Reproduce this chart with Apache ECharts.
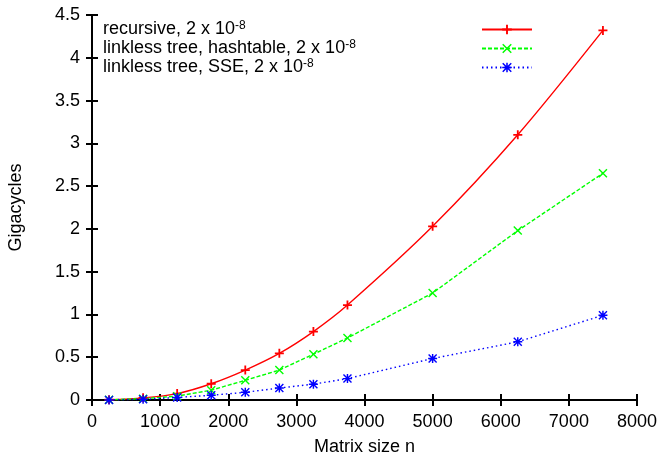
<!DOCTYPE html>
<html>
<head>
<meta charset="utf-8">
<script src="https://cdn.jsdelivr.net/npm/echarts@6/dist/echarts.min.js"></script>
<style>
html,body{margin:0;padding:0;background:#fff;}
#chart{width:660px;height:455px;}
</style>
</head>
<body>
<div id="chart"></div>
<script>
// ---- data ----
var sizes = [250, 750, 1250, 1750, 2250, 2750, 3250, 3750, 5000, 6250, 7500];
var recursive = [0.003, 0.025, 0.075, 0.19, 0.35, 0.545, 0.80, 1.11, 2.03, 3.10, 4.32];
var hashtable = [0.002, 0.015, 0.045, 0.115, 0.23, 0.35, 0.535, 0.725, 1.25, 1.98, 2.65];
var sse = [0.001, 0.008, 0.03, 0.055, 0.09, 0.14, 0.185, 0.25, 0.485, 0.68, 0.99];
var seriesNames = ['recursive, 2 x 10', 'linkless tree, hashtable, 2 x 10', 'linkless tree, SSE, 2 x 10'];
var seriesSup = '-8';
var xTicks = [0, 1000, 2000, 3000, 4000, 5000, 6000, 7000, 8000];
var yTicks = [0, 0.5, 1, 1.5, 2, 2.5, 3, 3.5, 4, 4.5];
var xTitle = 'Matrix size n';
var yTitle = 'Gigacycles';

function pairs(ys) { return sizes.map(function (x, i) { return [x, ys[i]]; }); }

var PLUS = 'path://M4,0h2v4h4v2h-4v4h-2v-4h-4v-2h4z';
var CROSS = 'path://M0,1.1L1.1,0L10,8.9L8.9,10Z M8.9,0L10,1.1L1.1,10L0,8.9Z';
var STAR = 'path://M4.2,0h1.6v4.2h4.2v1.6h-4.2v4.2h-1.6v-4.2h-4.2v-1.6h4.2z M0,1.1L1.1,0L10,8.9L8.9,10Z M8.9,0L10,1.1L1.1,10L0,8.9Z';

var FONT = 'Liberation Sans, Arial, sans-serif';
var LEG_FS = 18, SUP_FS = 12, LEG_TEXT_W = 374, ROW_H = 19;
var xStep = xTicks[1] - xTicks[0];
var yStep = yTicks[1] - yTicks[0];

var mctx = document.createElement('canvas').getContext('2d');
function textW(s, fs) { mctx.font = fs + 'px ' + FONT; return mctx.measureText(s).width; }

function axisCommon(showLabel) {
  return {
    axisLine: { show: true, lineStyle: { color: '#000', width: 2 } },
    axisTick: { show: true, inside: true, length: 6, lineStyle: { color: '#000', width: 2 } },
    splitLine: { show: false },
    axisLabel: { show: showLabel, color: '#000', fontSize: 18, fontFamily: FONT }
  };
}

var xBottom = Object.assign(axisCommon(true), {
  type: 'value', position: 'bottom', min: xTicks[0], max: xTicks[xTicks.length - 1], interval: xStep,
  name: xTitle, nameLocation: 'middle', nameGap: 38,
  nameTextStyle: { color: '#000', fontSize: 18, fontFamily: FONT }
});
xBottom.axisLabel.margin = 13;
xBottom.axisLabel.formatter = function (v) { return String(v); };
var xTop = Object.assign(axisCommon(false), {
  type: 'value', position: 'top', min: xTicks[0], max: xTicks[xTicks.length - 1], interval: xStep
});
var yLeft = Object.assign(axisCommon(true), {
  type: 'value', position: 'left', min: yTicks[0], max: yTicks[yTicks.length - 1], interval: yStep,
  name: yTitle, nameLocation: 'middle', nameGap: 67,
  nameTextStyle: { color: '#000', fontSize: 18, fontFamily: FONT }
});
yLeft.axisLabel.margin = 12;
yLeft.axisLabel.formatter = function (v) { return String(v); };
var yRight = Object.assign(axisCommon(false), {
  type: 'value', position: 'right', min: yTicks[0], max: yTicks[yTicks.length - 1], interval: yStep
});

function mkSeries(name, data, color, symbol, lineType, smooth) {
  return {
    name: name, type: 'line', data: pairs(data),
    xAxisIndex: 0, yAxisIndex: 0,
    symbol: symbol, symbolSize: 9, showSymbol: true,
    smooth: smooth,
    itemStyle: { color: color },
    lineStyle: { color: color, width: 1.4, type: lineType },
    emphasis: { disabled: true },
    animation: false
  };
}

// rich styles: main text, superscript, and per-item filler so text starts left and samples sit right
var rich = {
  t: { fontSize: LEG_FS, fontFamily: FONT, color: '#000', lineHeight: ROW_H, verticalAlign: 'middle' },
  s: { fontSize: SUP_FS, fontFamily: FONT, color: '#000', lineHeight: 8, verticalAlign: 'top' }
};
seriesNames.forEach(function (n, i) {
  var fill = Math.max(1, LEG_TEXT_W - textW(n, LEG_FS) - textW(seriesSup, SUP_FS));
  rich['f' + i] = { fontSize: LEG_FS, fontFamily: FONT, lineHeight: ROW_H, width: fill };
});

var chart = echarts.init(document.getElementById('chart'), null, { renderer: 'canvas' });
chart.setOption({
  backgroundColor: '#fff',
  animation: false,
  grid: { left: 92, right: 23, top: 15, bottom: 55, containLabel: false, outerBoundsMode: 'none' },
  xAxis: [xBottom, xTop],
  yAxis: [yLeft, yRight],
  legend: {
    orient: 'vertical', left: 103, top: 20, align: 'right', padding: 0,
    itemWidth: 50, itemHeight: 12, itemGap: 0,
    selectedMode: false,
    data: seriesNames,
    formatter: function (n) {
      var i = seriesNames.indexOf(n);
      return '{t|' + n + '}{s|' + seriesSup + '}{f' + i + '| }';
    },
    textStyle: { color: '#000', fontSize: LEG_FS, fontFamily: FONT, lineHeight: ROW_H, rich: rich }
  },
  series: [
    mkSeries(seriesNames[0], recursive, '#ff0000', PLUS, 'solid', 0.3),
    mkSeries(seriesNames[1], hashtable, '#00ff00', CROSS, [4, 2], false),
    mkSeries(seriesNames[2], sse, '#0000ff', STAR, [1.5, 3], false)
  ]
});
</script>
</body>
</html>
